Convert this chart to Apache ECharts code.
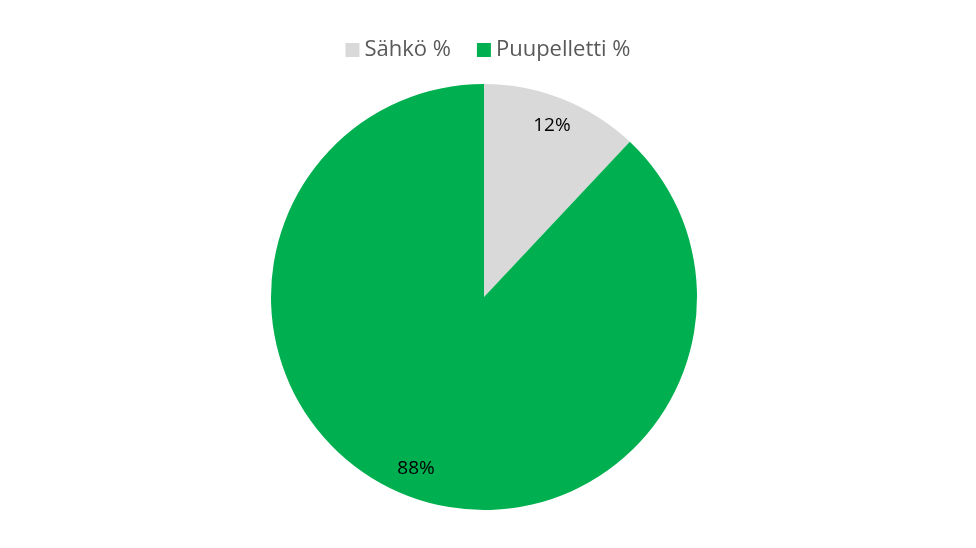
<!DOCTYPE html>
<html>
<head>
<meta charset="utf-8">
<script src="https://cdn.jsdelivr.net/npm/echarts@6/dist/echarts.min.js"></script>
<style>
html, body { margin: 0; padding: 0; background: #fff; }
#chart { width: 976px; height: 548px; }
</style>
</head>
<body>
<div id="chart"></div>
<script>
var names = ['Sähkö %', 'Puupelletti %'];
var values = [12, 88];
var colors = ['#d9d9d9', '#00b050'];

var data = [];
for (var i = 0; i < names.length; i++) {
    data.push({ name: names[i], value: values[i], itemStyle: { color: colors[i] } });
}

var chart = echarts.init(document.getElementById('chart'));
var option = {
    animation: false,
    legend: {
        data: names,
        top: 34,
        left: 'center',
        icon: 'rect',
        itemWidth: 14,
        itemHeight: 14,
        itemGap: 26,
        textStyle: {
            fontFamily: 'Open Sans',
            fontSize: 22,
            color: '#595959'
        }
    },
    series: [{
        name: 'pie',
        type: 'pie',
        center: [484, 297],
        radius: [0, 213],
        startAngle: 90,
        clockwise: true,
        label: { show: false },
        labelLine: { show: false },
        emphasis: { disabled: true },
        data: data
    }, {
        // label-only ring so the percentages sit near the outer edge
        name: 'labels',
        type: 'pie',
        center: [484, 297],
        radius: [150, 213],
        startAngle: 90,
        clockwise: true,
        silent: true,
        itemStyle: { color: 'transparent' },
        label: {
            show: true,
            position: 'inside',
            formatter: '{c}%',
            fontFamily: 'Open Sans',
            fontSize: 19,
            color: '#000'
        },
        labelLine: { show: false },
        emphasis: { disabled: true },
        data: names.map(function (n, i) { return { name: n, value: values[i], itemStyle: { color: 'transparent' } }; })
    }]
};
chart.setOption(option);
window.addEventListener('resize', function () {
    chart.resize();
});
</script>
</body>
</html>
